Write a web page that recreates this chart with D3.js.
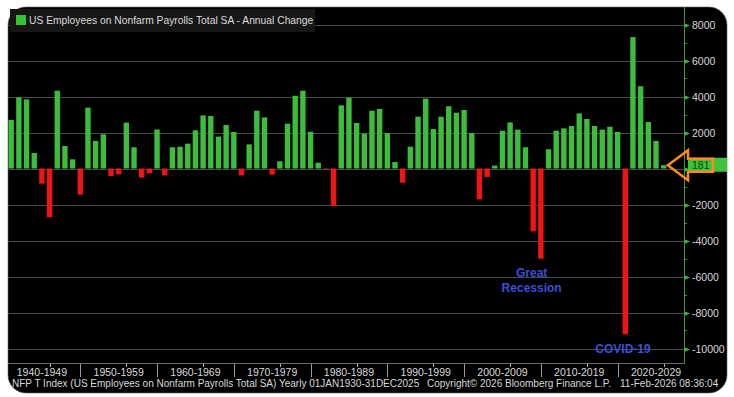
<!DOCTYPE html>
<html>
<head>
<meta charset="utf-8">
<script src="https://cdn.jsdelivr.net/npm/d3@7"></script>
<style>
  body { margin: 0; background: #fff; }
  svg { display: block; font-family: "Liberation Sans", Arial, sans-serif; }
</style>
</head>
<body>
<div id="visualization"></div>
<script>
// annual change in nonfarm payrolls (thousands), 1940 - 2025
var years = d3.range(1940, 2026);
var changes = [
  2700, 3950, 3840, 860, -840, -2710, 4320, 1250, 510, -1450,
  3380, 1530, 1900, -420, -320, 2550, 1180, -510, -270, 2170,
  -380, 1180, 1210, 1380, 2120, 2950, 2920, 1770, 2420, 2030,
  -380, 1340, 3210, 2840, -340, 400, 2490, 4040, 4320, 2040,
  320, -30, -2080, 3510, 3930, 2530, 1930, 3210, 3310, 1970,
  360, -790, 1210, 2880, 3880, 2190, 2880, 3460, 3100, 3250,
  1970, -1710, -470, 160, 2100, 2560, 2160, 1180, -3490, -5010,
  1070, 2100, 2230, 2360, 3060, 2750, 2360, 2160, 2320, 2030,
  -9210, 7300, 4570, 2580, 1530, 181
];
var decades = [1940, 1950, 1960, 1970, 1980, 1990, 2000, 2010, 2020];
var yTicks = [8000, 6000, 4000, 2000, 0, -2000, -4000, -6000, -8000, -10000];
var title = "US Employees on Nonfarm Payrolls Total SA - Annual Change";
var footer = "NFP T Index (US Employees on Nonfarm Payrolls Total SA) Yearly 01JAN1930-31DEC2025";
var copyright = "Copyright\u00A9 2026 Bloomberg Finance L.P.";
var stamp = "11-Feb-2026 08:36:04";
var notes = [
  { year: 2007.8, value: -5800, lines: ["Great", "Recession"] },
  { year: 2019.7, value: -10000, lines: ["COVID-19"] }
];

var width = 734, height = 397;
var panel = { x: 8, y: 7, w: 719, h: 386 };
var axisX = 684, plotBottom = 363;

var data = years.map(function(y, i){ return { year: y, value: changes[i] }; });

var x = d3.scaleBand()
    .domain(years)
    .range([7.36, 667.5])
    .paddingInner(0.3)
    .paddingOuter(0.15);

// centre of any year, also outside the data range
function xMid(yr){
  return x(years[0]) + x.bandwidth() / 2 + (yr - years[0]) * x.step();
}

var y = d3.scaleLinear()
    .domain([-10000, 8000])
    .range([348.5, 24.5]);

var svg = d3.select("#visualization")
  .append("svg")
    .attr("width", width)
    .attr("height", height);

svg.append("clipPath").attr("id", "panel-clip")
  .append("rect")
    .attr("x", panel.x).attr("y", panel.y)
    .attr("width", panel.w).attr("height", panel.h)
    .attr("rx", 18);

svg.append("rect")
    .attr("x", panel.x).attr("y", panel.y)
    .attr("width", panel.w).attr("height", panel.h)
    .attr("rx", 18)
    .attr("fill", "#000")
    .attr("stroke", "#666")
    .attr("stroke-width", 0.6);

var g = svg.append("g").attr("clip-path", "url(#panel-clip)");

/* ------- GRID -------*/
g.append("g").selectAll("line")
  .data(yTicks)
  .enter().append("line")
    .attr("x1", panel.x).attr("x2", axisX)
    .attr("y1", function(d){ return Math.round(y(d)) + 0.5; })
    .attr("y2", function(d){ return Math.round(y(d)) + 0.5; })
    .attr("stroke", "#4b4b4b")
    .attr("stroke-width", 1);

g.append("line")
    .attr("x1", panel.x).attr("x2", axisX)
    .attr("y1", plotBottom + 0.5).attr("y2", plotBottom + 0.5)
    .attr("stroke", "#6a6a6a");

/* ------- BARS -------*/
g.append("g").selectAll("rect")
  .data(data)
  .enter().append("rect")
    .attr("x", function(d){ return x(d.year); })
    .attr("width", x.bandwidth())
    .attr("y", function(d){ return y(Math.max(0, d.value)); })
    .attr("height", function(d){ return Math.abs(y(d.value) - y(0)); })
    .attr("fill", function(d){ return d.value >= 0 ? "#3cbd3c" : "#f01414"; });

/* ------- RIGHT AXIS -------*/
var axis = g.append("g").attr("transform", "translate(" + axisX + ",0)");
axis.append("line")
    .attr("x1", 0.5).attr("x2", 0.5)
    .attr("y1", panel.y).attr("y2", plotBottom + 1)
    .attr("stroke", "#3a9c3a");

var minor = d3.range(-9000, 8001, 2000);
axis.selectAll("line.minor")
  .data(minor)
  .enter().append("line")
    .attr("class", "minor")
    .attr("x1", 1).attr("x2", 3)
    .attr("y1", function(d){ return Math.round(y(d)) + 0.5; })
    .attr("y2", function(d){ return Math.round(y(d)) + 0.5; })
    .attr("stroke", "#3a9c3a");

var major = axis.selectAll("g.tick")
  .data(yTicks)
  .enter().append("g")
    .attr("class", "tick")
    .attr("transform", function(d){ return "translate(0," + (Math.round(y(d)) + 0.5) + ")"; });

major.append("path")
    .attr("d", "M1,-2L6,0L1,2Z")
    .attr("fill", "#3cbd3c");

// the zero label sits under the last-value tag, so it is not shown
major.filter(function(d){ return d !== 0; })
  .append("text")
    .attr("x", 8)
    .attr("dy", "0.35em")
    .attr("fill", "#d8d8d8")
    .style("font-size", "10.5px")
    .text(function(d){ return d; });

/* ------- LAST VALUE TAG -------*/
var last = data[data.length - 1];
var ly = y(last.value);
g.append("rect")
    .attr("x", axisX + 4).attr("y", ly - 7.5)
    .attr("width", 44).attr("height", 14)
    .attr("fill", "#3cc43c");
g.append("text")
    .attr("x", axisX + 8).attr("y", ly)
    .attr("dy", "0.35em")
    .attr("fill", "#0b3d0b")
    .style("font-size", "10.5px")
    .text(last.value);

var tipX = x(last.year) + x.bandwidth() + 1.5;
var arrow = [
  [tipX, ly], [axisX + 4, ly - 15], [axisX + 4, ly - 6.5], [axisX + 29, ly - 6.5],
  [axisX + 29, ly + 6.5], [axisX + 4, ly + 6.5], [axisX + 4, ly + 15]
];
g.append("path")
    .attr("d", d3.line()(arrow) + "Z")
    .attr("fill", "none")
    .attr("stroke", "#ff8a1c")
    .attr("stroke-width", 2.5)
    .attr("stroke-linejoin", "miter");

/* ------- X AXIS (DECADES) -------*/
var xa = g.append("g");
decades.forEach(function(d){
  // bloomberg pins each decade at year end of the previous year
  var left = xMid(d - 1);
  var right = xMid(d + 9);
  xa.append("line")
      .attr("x1", Math.round(left) + 0.5).attr("x2", Math.round(left) + 0.5)
      .attr("y1", plotBottom + 1).attr("y2", plotBottom + 14)
      .attr("stroke", "#9a9a9a");
  xa.append("line")
      .attr("x1", Math.round(xMid(d + 5)) + 0.5)
      .attr("x2", Math.round(xMid(d + 5)) + 0.5)
      .attr("y1", plotBottom + 1).attr("y2", plotBottom + 4)
      .attr("stroke", "#bbbbbb");
  xa.append("text")
      .attr("x", (left + right) / 2)
      .attr("y", plotBottom + 13)
      .attr("text-anchor", "middle")
      .attr("fill", "#d8d8d8")
      .style("font-size", "10.5px")
      .text(d + "-" + (d + 9));
});

/* ------- FOOTER -------*/
var foot = g.append("text")
    .attr("y", 387)
    .attr("fill", "#d8d8d8")
    .style("font-size", "10px");
foot.append("tspan").attr("x", 12).text(footer);
foot.append("tspan").attr("x", 427).text(copyright);
foot.append("tspan").attr("x", 620).text(stamp);

/* ------- ANNOTATIONS -------*/
notes.forEach(function(n){
  var t = g.append("text")
      .attr("text-anchor", "middle")
      .attr("fill", "#3d4fd6")
      .style("font-size", "12px")
      .style("font-weight", "bold")
      .attr("transform", "translate(" + xMid(n.year) + "," + y(n.value) + ")");
  n.lines.forEach(function(l, i){
    t.append("tspan").attr("x", 0).attr("dy", i ? "1.25em" : "0.35em").text(l);
  });
});

/* ------- LEGEND -------*/
var legend = svg.append("g");
legend.append("rect")
    .attr("x", 10).attr("y", 9)
    .attr("width", 305).attr("height", 23)
    .attr("fill", "#161616");
legend.append("rect")
    .attr("x", 16).attr("y", 15)
    .attr("width", 10).attr("height", 10)
    .attr("fill", "#33c433");
legend.append("text")
    .attr("x", 29).attr("y", 24)
    .attr("fill", "#dcdcdc")
    .style("font-size", "10.3px")
    .text(title);
</script>
</body>
</html>
